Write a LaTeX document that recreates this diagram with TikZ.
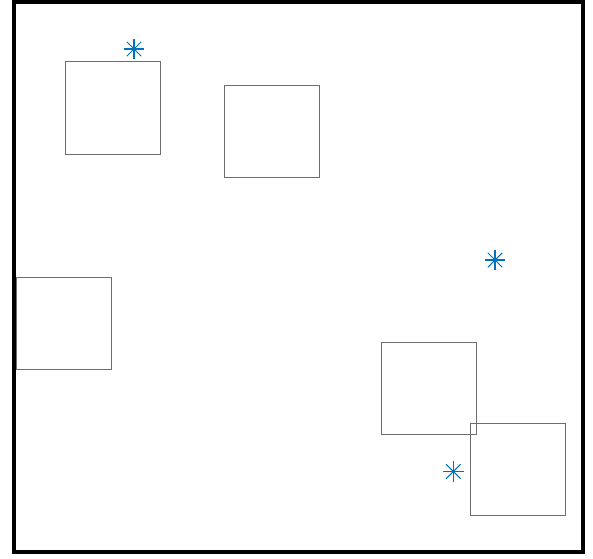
\documentclass[tikz,border=0pt]{standalone}
\usepackage{xcolor}
\definecolor{plotFrame}{HTML}{000000}
\definecolor{boxGray}{HTML}{6E6E6E}
\definecolor{markBlue}{HTML}{0072BD}
\usepackage{tikz}
\usetikzlibrary{positioning}
\tikzset{
  frame/.style={draw=plotFrame,line width=3.3pt},
  sqbox/.style={rectangle,draw=boxGray,line width=0.75pt,fill=none,inner sep=0pt,outer sep=0pt,
                minimum width=2.85cm,minimum height=2.77cm},
  starmark/.style={circle,inner sep=0pt,minimum size=0.6cm},
  starline/.style={draw=markBlue,line width=0.9pt},
}

\begin{document}
\begin{tikzpicture}[x=0.03cm,y=-0.03cm]
  \useasboundingbox (0,0) rectangle (593,558);

  % obstacles
  \node[sqbox] (boxA) at (112.5,108) {};
  \node[sqbox] (boxB) at (271.8,131.4) {};
  \node[sqbox] (boxC) at (63.8,323.5) {};
  \node[sqbox] (boxD) at (429.3,388.3) {};
  \node[sqbox] (boxE) at (518.2,469.2) {};

  % markers
  \node[starmark] (markA) at (134,49) {};
  \node[starmark] (markB) at (495,260) {};
  \node[starmark] (markC) at (453.3,471.5) {};
  \foreach \m in {markA,markB,markC}{
    \foreach \a in {0,45,90,135}{
      \draw[starline] (\m.\a) -- (\m.\a+180);
    }
  }

  % outer frame
  \draw[frame] (14,2) rectangle (583,552);
\end{tikzpicture}
\end{document}
